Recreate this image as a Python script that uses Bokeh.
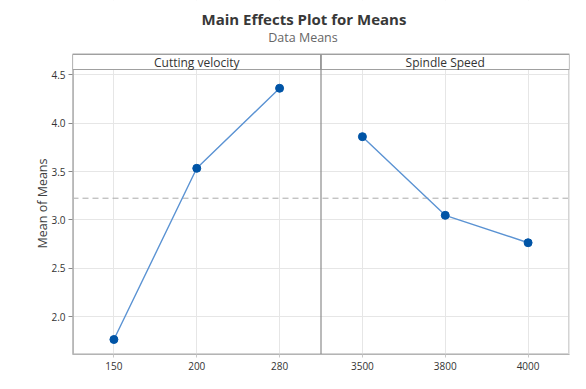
from bokeh.plotting import figure
from bokeh.models import ColumnDataSource, Span, FixedTicker, Range1d
from bokeh.core.properties import value
from bokeh.embed import file_html
from bokeh.resources import INLINE

# ---- data ----
factors = ["Cutting velocity", "Spindle Speed"]
cv_levels = ["150", "200", "280"]
cv_means = [1.765, 3.534, 4.361]
ss_levels = ["3500", "3800", "4000"]
ss_means = [3.861, 3.048, 2.765]
grand_mean = 3.225
y_ticks = [2.0, 2.5, 3.0, 3.5, 4.0, 4.5]
title_text = "Main Effects Plot for Means"
subtitle_text = "Data Means"
y_label = "Mean of Means"

FONT = "Open Sans"

n1 = len(cv_levels)
n2 = len(ss_levels)
x_cv = list(range(n1))
x_ss = list(range(n1, n1 + n2))

# layout (pixels); the frame spans the title area too, panels start at PANEL_TOP
W, H = 578, 381
BL, BR, BB = 72, 9, 27
PANEL_TOP = 54
y_lo, y_hi, strip_top = 1.610, 4.555, 4.710
px_y = (H - BB - PANEL_TOP) / (strip_top - y_lo)
y_top = strip_top + PANEL_TOP / px_y
x_lo, x_hi = -0.5, n1 + n2 - 0.5
px_x = (W - BL - BR) / (x_hi - x_lo)


def to_dx(px):
    return x_lo + (px - BL) / px_x


def to_dy(py):
    return y_top - py / px_y


p = figure(width=W, height=H, output_backend="svg", toolbar_location=None, title=None,
           x_range=Range1d(x_lo, x_hi), y_range=Range1d(y_lo, y_top),
           min_border_left=BL, min_border_right=BR, min_border_bottom=BB, min_border_top=0)
p.outline_line_color = None
p.background_fill_color = "white"
p.border_fill_color = "white"

# grid
p.xgrid.ticker = FixedTicker(ticks=x_cv + x_ss)
p.ygrid.ticker = FixedTicker(ticks=y_ticks)
p.xgrid.grid_line_color = "#e6e6e6"
p.ygrid.grid_line_color = "#e6e6e6"

# axes
p.xaxis.ticker = FixedTicker(ticks=x_cv + x_ss)
p.xaxis.major_label_overrides = {i: lab for i, lab in zip(x_cv + x_ss, cv_levels + ss_levels)}
p.yaxis.ticker = FixedTicker(ticks=y_ticks)
p.yaxis.major_label_overrides = {t: f"{t:.1f}" for t in y_ticks}
for ax in (p.xaxis[0], p.yaxis[0]):
    ax.minor_tick_line_color = None
    ax.major_label_text_font = FONT
    ax.major_label_text_font_size = "10px"
    ax.major_label_text_color = "#333333"
p.xaxis.major_tick_line_color = "#c8c8c8"
p.xaxis.major_tick_out = 3
p.xaxis.major_tick_in = 0
p.xaxis.axis_line_color = "#b4b4b4"
p.xaxis.major_label_standoff = 4
p.yaxis.major_tick_line_color = "#888888"
p.yaxis.major_tick_out = 4
p.yaxis.major_tick_in = 0
p.yaxis.axis_line_color = None
p.yaxis.major_label_standoff = 3
# trailing no-break spaces shift the centred label down to the middle of the panels
p.yaxis.axis_label = y_label + "\u00a0" * 16
p.yaxis.axis_label_text_font = FONT
p.yaxis.axis_label_text_font_size = "12.5px"
p.yaxis.axis_label_text_font_style = "normal"
p.yaxis.axis_label_text_color = "#404040"
p.yaxis.axis_label_standoff = -3

# white header area (covers grid lines above the panels)
p.quad(left=[x_lo], right=[x_hi], bottom=[strip_top], top=[y_top],
       fill_color="white", line_color=None)

# titles
p.text(x=[to_dx(303.5)], y=[to_dy(18.5)], text=[title_text], text_align="center",
       text_baseline="middle", text_font=value(FONT), text_font_size="15px",
       text_font_style="bold", text_color="#383838")
p.text(x=[to_dx(302.5)], y=[to_dy(37)], text=[subtitle_text], text_align="center",
       text_baseline="middle", text_font=value(FONT), text_font_size="12.5px",
       text_color="#666666")

# reference mean line
p.segment(x0=[x_lo], y0=[grand_mean], x1=[x_hi], y1=[grand_mean], line_color="#aaaaaa",
          line_dash="6 4", line_width=1)

# panel frame (light) and left axis line
p.quad(left=[x_lo], right=[x_hi], bottom=[y_lo], top=[strip_top],
       fill_color=None, line_color="#d4d4d4", line_width=3)
p.segment(x0=[x_lo], y0=[y_lo], x1=[x_lo], y1=[strip_top], line_color="#999999", line_width=2)

# strips
strip = ColumnDataSource(dict(left=[x_lo, n1 - 0.5], right=[n1 - 0.5, x_hi],
                              bottom=[y_hi] * 2, top=[strip_top] * 2,
                              xc=[(n1 - 1) / 2, n1 + (n2 - 1) / 2],
                              yc=[(y_hi + strip_top) / 2] * 2, label=factors))
p.quad(left="left", right="right", bottom="bottom", top="top", source=strip,
       fill_color="white", line_color="#a0a0a0", line_width=1.2)
p.text(x="xc", y="yc", text="label", source=strip, text_align="center",
       text_baseline="middle", text_font=value(FONT), text_font_size="12px",
       text_color="#333333")

# panel divider
p.segment(x0=[n1 - 0.5], y0=[y_lo], x1=[n1 - 0.5], y1=[strip_top],
          line_color="#8c8c8c", line_width=1.2)

# series
for xs, ys in ((x_cv, cv_means), (x_ss, ss_means)):
    p.line(xs, ys, line_color="#5b93d3", line_width=1.4)
    p.scatter(xs, ys, size=8, fill_color="#0054a6", line_color="#0054a6")

open("out.html", "w").write(file_html(p, INLINE))
